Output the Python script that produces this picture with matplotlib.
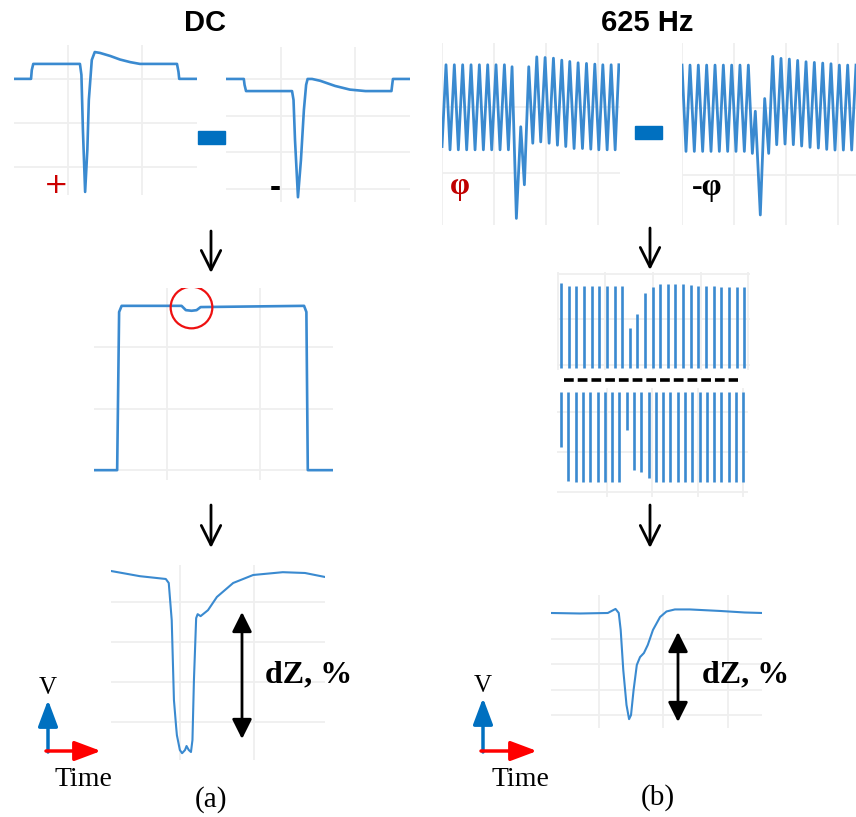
import matplotlib
matplotlib.use("Agg")
import matplotlib.pyplot as plt
from matplotlib.patches import Rectangle

W, H = 856, 817
BLUE = '#3a8ad0'
GRID = '#efefef'

# ---- DC: pulse with + and - polarity (time in grid units, amplitude in grid units)
dc_pos_t = [0.27, 0.50, 0.51, 0.53, 1.16, 1.18, 1.20, 1.23, 1.26, 1.28, 1.32, 1.36,
            1.43, 1.57, 1.70, 1.84, 1.97, 2.47, 2.49, 2.50, 2.74]
dc_pos_v = [0, 0, 0.20, 0.34, 0.34, 0.09, -1.16, -2.57, -1.61, -0.48, 0.43, 0.61,
            0.59, 0.52, 0.44, 0.38, 0.34, 0.34, 0.16, 0, 0]

dc_neg_t = [0.26, 0.50, 0.51, 0.53, 1.15, 1.17, 1.19, 1.23, 1.27, 1.31, 1.34, 1.36,
            1.42, 1.53, 1.73, 1.93, 2.14, 2.49, 2.50, 2.51, 2.74]
dc_neg_v = [0, 0, -0.16, -0.33, -0.33, -0.57, -1.66, -3.22, -2.21, -0.84, -0.16, 0,
            0, -0.05, -0.19, -0.29, -0.33, -0.33, -0.16, 0, 0]

# difference of the two
dc_diff_t = [0.22, 0.468, 0.489, 0.516, 1.158, 1.204, 1.265, 1.319, 1.362, 2.47, 2.495, 2.51, 2.78]
dc_diff_v = [0, 0, 2.57, 2.67, 2.67, 2.60, 2.59, 2.60, 2.65, 2.67, 2.57, 0, 0]
dip_t, dip_v = 1.26, 2.65

# resulting impedance change
dc_dz_t = [0.07, 0.46, 0.81, 0.85, 0.89, 0.92, 0.95, 0.96, 1.00, 1.03, 1.07, 1.09, 1.12,
           1.15, 1.17, 1.19, 1.22, 1.24, 1.28, 1.38, 1.50, 1.72, 1.99, 2.39, 2.69, 2.96]
dc_dz_v = [3.78, 3.65, 3.58, 3.48, 2.55, 0.55, -0.13, -0.33, -0.70, -0.78, -0.70, -0.60, -0.70,
           -0.75, -0.45, 1.05, 2.60, 2.70, 2.65, 2.80, 3.13, 3.48, 3.68, 3.75, 3.73, 3.63]

# ---- 625 Hz: carrier with phase phi and -phi (time in ms), extrema of the trace
ac_pos_t = [0, 0.77, 1.54, 2.37, 3.14, 3.97, 4.74, 5.58, 6.35, 7.18, 7.95, 8.78, 9.55, 10.38,
            11.15, 11.99, 12.76, 13.46, 14.29, 15.13, 15.83, 16.67, 17.44, 18.21, 18.97, 19.81,
            20.58, 21.41, 22.18, 23.01, 23.78, 24.55, 25.38, 26.15, 26.99, 27.76, 28.59, 29.36,
            30.13, 30.90, 31.73, 32.50, 33.27, 33.98]
ac_pos_v = [0.40, 1.64, 0.35, 1.64, 0.35, 1.64, 0.35, 1.64, 0.35, 1.64, 0.35, 1.64, 0.35, 1.64,
            0.35, 1.64, 0.35, 1.61, -0.69, 0.70, -0.18, 1.61, 0.45, 1.76, 0.47, 1.75,
            0.45, 1.74, 0.42, 1.71, 0.40, 1.69, 0.37, 1.67, 0.37, 1.66, 0.36, 1.65,
            0.35, 1.64, 0.35, 1.64, 0.35, 1.64]

ac_neg_t = [0, 0.77, 1.54, 2.37, 3.14, 3.97, 4.74, 5.58, 6.35, 7.18, 7.95, 8.78, 9.55, 10.38,
            11.15, 11.99, 12.76, 13.53, 14.10, 15.06, 15.90, 16.67, 17.44, 18.21, 19.04, 19.81,
            20.64, 21.41, 22.24, 23.01, 23.85, 24.62, 25.45, 26.22, 27.06, 27.83, 28.65, 29.42,
            30.26, 31.03, 31.86, 32.63, 33.46]
ac_neg_v = [1.64, 0.35, 1.64, 0.35, 1.64, 0.35, 1.64, 0.35, 1.64, 0.35, 1.64, 0.35, 1.64, 0.35,
            1.64, 0.35, 1.64, 0.32, 0.95, -0.60, 1.14, 0.32, 1.77, 0.45, 1.74, 0.46,
            1.73, 0.45, 1.71, 0.43, 1.69, 0.41, 1.68, 0.40, 1.67, 0.38, 1.66, 0.37,
            1.64, 0.37, 1.64, 0.37, 1.64]

# demodulated samples (one per carrier period)
top_t = [0.63, 2.25, 3.85, 5.47, 7.09, 8.69, 10.32, 11.94, 13.54, 15.09, 16.69, 18.32, 19.94,
         21.54, 23.16, 24.69, 26.32, 27.94, 29.54, 31.16, 32.78, 34.38, 36.00, 37.62, 39.22]
top_v = [0.90, 0.87, 0.87, 0.87, 0.87, 0.87, 0.87, 0.87, 0.87, 0.41, 0.56, 0.79, 0.86,
         0.89, 0.89, 0.89, 0.89, 0.88, 0.87, 0.87, 0.87, 0.86, 0.86, 0.86, 0.86]
bot_t = [-0.22, 1.39, 3.03, 4.65, 6.26, 7.90, 9.51, 11.13, 12.68, 14.31, 15.93, 17.54, 19.18,
         20.80, 22.41, 23.96, 25.60, 27.21, 28.83, 30.46, 32.08, 33.63, 35.24, 36.88, 38.50, 40.04]
bot_v = [-0.55, -0.89, -0.90, -0.90, -0.90, -0.90, -0.90, -0.90, -0.90, -0.38, -0.78, -0.80, -0.86,
         -0.90, -0.90, -0.90, -0.90, -0.90, -0.90, -0.90, -0.90, -0.90, -0.90, -0.90, -0.90, -0.90]

# resulting impedance change at 625 Hz
ac_dz_t = [0.26, 0.71, 1.14, 1.20, 1.26, 1.31, 1.34, 1.38, 1.43, 1.47, 1.50, 1.54, 1.59, 1.64,
           1.70, 1.76, 1.84, 1.95, 2.05, 2.18, 2.41, 2.88, 3.26, 3.53]
ac_dz_v = [4.03, 4.01, 4.03, 4.11, 4.19, 4.03, 3.36, 1.78, 0.40, -0.16, 0.0, 0.99, 1.98, 2.29,
           2.45, 2.77, 3.36, 3.87, 4.09, 4.17, 4.17, 4.11, 4.05, 4.03]

fig = plt.figure(figsize=(W / 100, H / 100), dpi=100)


def panel(x0, y0, x1, y1, xlim, ylim, xg, yg):
    ax = fig.add_axes([x0 / W, 1 - y1 / H, (x1 - x0) / W, (y1 - y0) / H])
    ax.set_xlim(xlim)
    ax.set_ylim(ylim)
    ax.set_xticks(xg)
    ax.set_yticks(yg)
    ax.tick_params(length=0, labelbottom=False, labelleft=False)
    for s in ax.spines.values():
        s.set_visible(False)
    ax.grid(True, color=GRID, lw=1.3)
    ax.set_axisbelow(True)
    ax.patch.set_alpha(0)
    return ax


# DC column
ax = panel(14, 45, 197, 195, (0.27, 2.74), (-2.64, 0.77), [1, 2], [0, -1, -2])
ax.plot(dc_pos_t, dc_pos_v, color=BLUE, lw=1.9, solid_joinstyle='round')
ax = panel(226, 47, 410, 202, (0.26, 2.74), (-3.35, 0.87), [1, 2], [0, -1, -2, -3])
ax.plot(dc_neg_t, dc_neg_v, color=BLUE, lw=1.9, solid_joinstyle='round')
ax = panel(94, 288, 333, 480, (0.22, 2.78), (-0.16, 2.96), [1, 2], [0, 1, 2])
ax.plot(dc_diff_t, dc_diff_v, color=BLUE, lw=1.9, solid_joinstyle='round')
ax.plot(dip_t, dip_v, 'o', ms=30, mfc='none', mec='#ee1111', mew=1.6)
ax = panel(111, 565, 325, 760, (0.07, 2.96), (-0.95, 3.93), [1, 2], [0, 1, 2, 3])
ax.plot(dc_dz_t, dc_dz_v, color=BLUE, lw=1.5, solid_joinstyle='round')

# 625 Hz column
ax = panel(442, 43, 620, 225, (0, 34.2), (-0.79, 1.97), [0, 10, 20, 30], [0, 1])
ax.plot(ac_pos_t, ac_pos_v, color=BLUE, lw=2.0, solid_joinstyle='round')
ax = panel(682, 43, 856, 225, (0, 33.46), (-0.75, 1.97), [0, 10, 20, 30], [0, 1])
ax.plot(ac_neg_t, ac_neg_v, color=BLUE, lw=2.0, solid_joinstyle='round')
ax = panel(557, 272, 750, 370, (-0.21, 40.42), (-0.055, 1.02), [0, 10, 20, 30, 40], [0, 0.5, 1])
ax.vlines(top_t, -0.03, top_v, color=BLUE, lw=1.9)
ax = panel(557, 388, 748, 497, (-1.1, 41.15), (-1.05, 0.04), [10, 20, 30, 40], [-0.2, -0.6, -1.0])
ax.vlines(bot_t, 0, bot_v, color=BLUE, lw=1.9)
ax = panel(551, 595, 762, 728, (0.26, 3.53), (-0.51, 4.74), [1, 2, 3], [0, 1, 2, 3])
ax.plot(ac_dz_t, ac_dz_v, color=BLUE, lw=1.5, solid_joinstyle='round')

# overlay for arrows, signs and labels (pixel coordinates)
ov = fig.add_axes([0, 0, 1, 1])
ov.set_xlim(0, W)
ov.set_ylim(H, 0)
ov.set_axis_off()
ov.patch.set_alpha(0)

sans = 'Liberation Sans'
serif = 'Liberation Serif'
ov.text(205.5, 22.5, 'DC', ha='center', va='center', fontsize=21, fontweight='bold', family=sans)
ov.text(647.5, 22.5, '625 Hz', ha='center', va='center', fontsize=21, fontweight='bold', family=sans)

ov.text(56.5, 184.5, '+', ha='center', va='center', fontsize=21, color='#cc0000', family='DejaVu Sans')
ov.text(275, 188.5, '-', ha='center', va='center', fontsize=24, fontweight='bold', family=sans)
ov.text(460, 186.5, 'φ', ha='center', va='center', fontsize=23, fontweight='bold', color='#c00000', family=serif)
ov.text(707, 187.5, '-φ', ha='center', va='center', fontsize=23, fontweight='bold', family=serif)

ov.add_patch(Rectangle((198, 131), 27, 13, color='#0070c0'))
ov.add_patch(Rectangle((635, 126), 27, 13, color='#0070c0'))

down = dict(arrowstyle='->,head_length=0.7,head_width=0.35', lw=2, color='black',
            mutation_scale=20, shrinkA=0, shrinkB=0)
for x, y0, y1 in [(211, 231, 273), (650, 228, 270), (211, 505, 548), (650, 505, 548)]:
    ov.annotate('', xy=(x, y1), xytext=(x, y0), arrowprops=down)

ov.plot([564, 738], [380, 380], color='black', lw=2.6, linestyle=(0, (2.7, 1.1)))

both = dict(arrowstyle='<|-|>,head_length=0.6,head_width=0.3', lw=2, color='black',
            mutation_scale=20, shrinkA=0, shrinkB=0)
ov.annotate('', xy=(242, 739), xytext=(242, 612), arrowprops=both)
ov.annotate('', xy=(678, 722), xytext=(678, 632), arrowprops=both)
ov.text(265, 675, 'dZ, %', ha='left', va='center', fontsize=23, fontweight='bold', family=serif)
ov.text(702, 675, 'dZ, %', ha='left', va='center', fontsize=23, fontweight='bold', family=serif)

head = 'head_length=0.8,head_width=0.3'
for x0, y0, xv, yv, xt in [(48, 751, 101, 700, 83.5), (483, 751, 537, 698, 520.5)]:
    ov.annotate('', xy=(x0, yv), xytext=(x0, y0 + 1),
                arrowprops=dict(arrowstyle='-|>,' + head, lw=2.5, color='#0070c0',
                                mutation_scale=20, shrinkA=0, shrinkB=0))
    ov.annotate('', xy=(xv, y0), xytext=(x0 - 2, y0),
                arrowprops=dict(arrowstyle='-|>,' + head, lw=2.5, color='#ff0000',
                                mutation_scale=20, shrinkA=0, shrinkB=0))
    ov.text(x0, yv - 12, 'V', ha='center', va='center', fontsize=18, family=serif)
    ov.text(xt, 780, 'Time', ha='center', va='center', fontsize=20, family=serif)
ov.text(211.5, 800, '(a)', ha='center', va='center', fontsize=21, family=serif)
ov.text(658, 798, '(b)', ha='center', va='center', fontsize=21, family=serif)

fig.savefig('out.png', dpi=100)
